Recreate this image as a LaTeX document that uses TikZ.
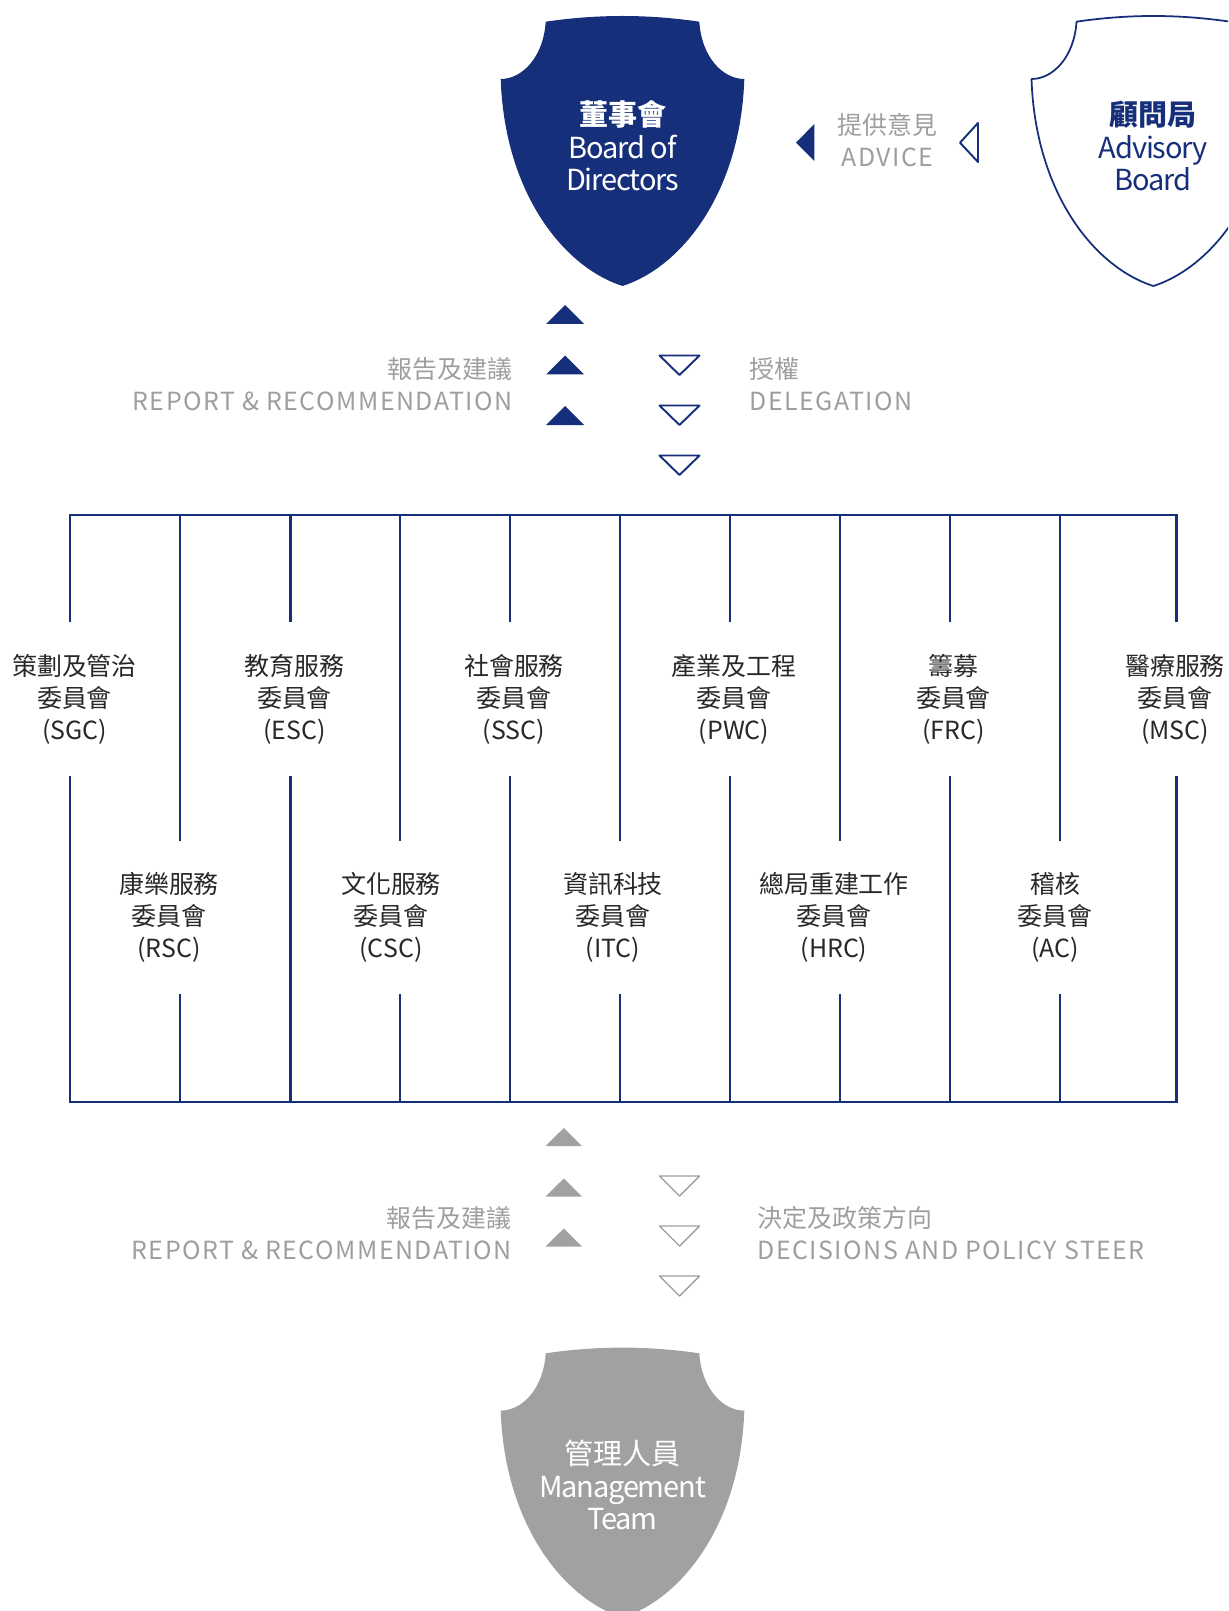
\documentclass[tikz,border=0pt]{standalone}
\usepackage{fontspec}
\setmainfont{Noto Sans CJK TC}
\definecolor{navy}{RGB}{22,47,122}
\definecolor{shieldgray}{RGB}{160,162,162}
\definecolor{notegray}{RGB}{158,158,158}
\definecolor{labeltext}{RGB}{40,40,40}
\newcommand\graylatin[1]{{\addfontfeatures{LetterSpace=6}#1}}
\newcommand\shieldlatin[1]{{\addfontfeatures{LetterSpace=-4}#1}}
\tikzset{
  pics/shield/.style={code={
    \path[pic actions] (-76.8,0) .. controls (-25,-7.6) and (25,-7.6) .. (76.8,0)
      .. controls (79,35) and (100,57.3) .. (121.8,57.3)
      .. controls (118,170) and (60,245) .. (0,264.3)
      .. controls (-60,245) and (-118,170) .. (-121.8,57.3)
      .. controls (-100,57.3) and (-79,35) .. (-76.8,0) -- cycle;
  }},
  framebar/.style={draw=navy,line width=1.2pt,line cap=rect},
  cttee/.style={align=center,text=labeltext,inner sep=0pt,outer sep=0pt,
    minimum height=3.12cm,font=\fontsize{14.2}{18.2}\selectfont},
  arrowtext/.style={text=notegray,inner sep=0pt,font=\fontsize{14.2}{18.2}\selectfont},
  shieldtext/.style={align=center,inner sep=0pt,font=\fontsize{16.5}{18.5}\selectfont}
}
\begin{document}
\begin{tikzpicture}[x=0.02cm,y=-0.02cm,line join=round]
	\clip (0,0) rectangle (1228,1611);
	
	% shields
	\pic[fill=navy] at (622.5,21.7) {shield};
	\pic[draw=navy,line width=1pt] at (1153.3,21.7) {shield};
	\pic[fill=shieldgray] at (622.5,1353.3) {shield};
	
	\node[shieldtext,text=white] (board) at (622.5,146) {\textbf{董事會}\\\shieldlatin{Board of}\\\shieldlatin{Directors}};
	\node[shieldtext,text=navy] (advisory) at (1153.3,146) {\textbf{顧問局}\\\shieldlatin{Advisory}\\\shieldlatin{Board}};
	\node[shieldtext,text=white] (mgmt) at (622.5,1485) {管理人員\\\shieldlatin{Management}\\\shieldlatin{Team}};
	
	% advice
	\node[arrowtext,align=center] (advice) at (887.5,140) {提供意見\\\graylatin{ADVICE}};
	\fill[navy] (796,142.7) -- (814.3,124) -- (814.3,161) -- cycle;
	\draw[navy,line width=1.1pt] (960,142.7) -- (978,123) -- (978,162) -- cycle;
	
	% report and delegation
	\foreach \y in {305,355.5,406}
	\fill[navy] (546,\y+19) -- (565,\y) -- (584,\y+19) -- cycle;
	\foreach \y in {355.5,405.5,455.5}
	\draw[navy,line width=1.1pt] (659.5,\y) -- (699.5,\y) -- (679.5,\y+19.5) -- cycle;
	\node[arrowtext,align=right,anchor=east] (report) at (513,384) {報告及建議\\\graylatin{REPORT \& RECOMMENDATION}};
	\node[arrowtext,align=left,anchor=west] (deleg) at (749,384) {授權\\\graylatin{DELEGATION}};
	
	% committees
	\foreach \i/\lnx/\lx/\ltxt/\ab in {0/70/74.5/策劃及管治/SGC, 1/180/169/康樂服務/RSC,
		2/290.5/294.5/教育服務/ESC, 3/400.3/391/文化服務/CSC, 4/510/514/社會服務/SSC,
		5/620/613/資訊科技/ITC, 6/730/734/產業及工程/PWC, 7/840.3/834/總局重建工作/HRC,
		8/950.2/953.5/籌募/FRC, 9/1060/1055/稽核/AC, 10/1176.5/1175/醫療服務/MSC}
	{
		\pgfmathsetmacro\ly{isodd(\i) ? 917.5 : 699}
		\coordinate (t\i) at (\lnx,515);
		\coordinate (b\i) at (\lnx,1102);
		\node[cttee] (c\i) at (\lx,\ly) {\ltxt\\委員會\\(\ab)};
		\draw[framebar] (t\i) -- (t\i |- c\i.north);
		\draw[framebar] (t\i |- c\i.south) -- (b\i);
	}
	\draw[framebar] (t0) -- (t10);
	\draw[framebar] (b0) -- (b10);
	
	% report and decisions
	\foreach \y in {1128,1178.5,1228.5}
	\fill[shieldgray] (545.5,\y+18) -- (563.8,\y) -- (582,\y+18) -- cycle;
	\foreach \y in {1176,1226,1276}
	\draw[notegray,line width=0.8pt] (659.5,\y) -- (699.5,\y) -- (679.5,\y+20) -- cycle;
	\node[arrowtext,align=right,anchor=east] (report2) at (512,1233) {報告及建議\\\graylatin{REPORT \& RECOMMENDATION}};
	\node[arrowtext,align=left,anchor=west] (decision) at (757,1233) {決定及政策方向\\\graylatin{DECISIONS AND POLICY STEER}};
\end{tikzpicture}
\end{document}
